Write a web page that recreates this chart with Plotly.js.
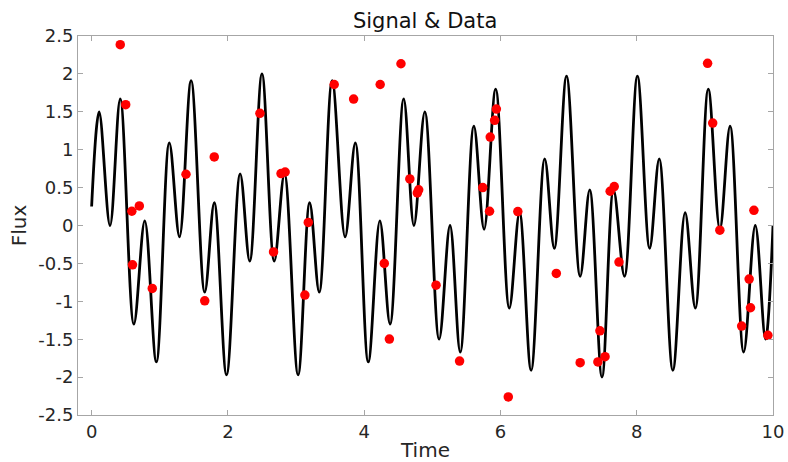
<!DOCTYPE html>
<html>
<head>
<meta charset="utf-8">
<script src="https://cdn.plot.ly/plotly-3.0.1.min.js"></script>
<style>html,body{margin:0;padding:0;background:#fff;}#chart{width:788px;height:462px;}</style>
</head>
<body>
<div id="chart"></div>
<script>
// Signal curve: extrema (time, flux)
const signalTime = [0, 0.11, 0.27, 0.42, 0.62, 0.78, 0.95, 1.14, 1.29, 1.46, 1.66, 1.80, 1.98, 2.18, 2.32,
  2.50, 2.68, 2.83, 3.03, 3.20, 3.34, 3.53, 3.72, 3.87, 4.06, 4.23, 4.38, 4.58, 4.73, 4.89,
  5.10, 5.26, 5.41, 5.61, 5.76, 5.93, 6.13, 6.28, 6.45, 6.65, 6.79, 6.97, 7.17, 7.31,
  7.49, 7.66, 7.82, 8.01, 8.19, 8.33, 8.53, 8.71, 8.86, 9.05, 9.22, 9.37, 9.57, 9.74, 9.89, 10];
const signalFlux = [0.25, 1.50, 0.0, 1.67, -1.30, 0.06, -1.80, 1.09, -0.15, 1.91, -0.88, 0.30, -1.97, 0.68, -0.47,
  2.00, -0.47, 0.68, -1.97, 0.30, -0.88, 1.91, -0.15, 1.09, -1.80, 0.06, -1.30, 1.67, 0.0, 1.50,
  -1.50, 0.0, -1.67, 1.31, -0.05, 1.80, -1.09, 0.17, -1.91, 0.88, -0.30, 1.97, -0.67, 0.47,
  -2.00, 0.47, -0.67, 1.97, -0.30, 0.88, -1.91, 0.17, -1.09, 1.80, -0.05, 1.31, -1.67, 0.0, -1.50, 0.0];

// Data points (time, flux)
const dataTime = [0.42, 0.50, 0.59, 0.70, 0.60, 0.89, 1.385, 1.80, 1.66, 2.47, 2.67, 2.78, 2.84, 3.13, 3.18,
  3.56, 3.845, 4.235, 4.54, 4.295, 4.37, 4.67, 4.78, 4.80, 5.055, 5.40, 5.74, 5.84, 5.85, 5.915, 5.94,
  6.115, 6.255, 6.82, 7.17, 7.43, 7.46, 7.535, 7.61, 7.67, 7.74, 9.04, 9.115, 9.22, 9.72, 9.65, 9.67, 9.54, 9.925];
const dataFlux = [2.385, 1.594, 0.188, 0.258, -0.519, -0.83, 0.676, 0.904, -0.993, 1.48, -0.348, 0.685, 0.706, -0.918, 0.04,
  1.86, 1.668, 1.86, 2.134, -0.50, -1.498, 0.614, 0.43, 0.47, -0.787, -1.788, 0.50, 0.188, 1.167, 1.387, 1.536,
  -2.262, 0.184, -0.633, -1.81, -1.80, -1.389, -1.73, 0.452, 0.514, -0.483, 2.14, 1.352, -0.062, 0.20, -0.707, -1.085, -1.327, -1.449];

// Tick labels
const xTickVals = [0, 2, 4, 6, 8, 10];
const xTickText = ["0", "2", "4", "6", "8", "10"];
const yTickVals = [-2.5, -2, -1.5, -1, -0.5, 0, 0.5, 1, 1.5, 2, 2.5];
const yTickText = ["-2.5", "-2", "-1.5", "-1", "-0.5", "0", "0.5", "1", "1.5", "2", "2.5"];

const FONT = "DejaVu Sans, sans-serif";
const axisCommon = {
  showgrid: false, zeroline: false,
  showline: true, linecolor: "#a6a6a6", linewidth: 1, mirror: "ticks",
  ticks: "inside", ticklen: 5, tickcolor: "#a6a6a6",
  tickfont: {family: FONT, size: 18, color: "#262626"}
};

const traces = [
  {x: signalTime, y: signalFlux, type: "scatter", mode: "lines",
   line: {color: "#000000", width: 2.8, shape: "spline", smoothing: 1}, hoverinfo: "skip"},
  {x: dataTime, y: dataFlux, type: "scatter", mode: "markers",
   marker: {color: "#ff0000", size: 9.5}}
];

const layout = {
  width: 788, height: 462,
  margin: {l: 78, r: 15, t: 36, b: 47},
  paper_bgcolor: "#ffffff", plot_bgcolor: "#ffffff",
  showlegend: false,
  title: {text: "Signal & Data", x: 0.5395, xanchor: "center", y: 0.955, yanchor: "middle",
          font: {family: FONT, size: 21, color: "#111111"}},
  xaxis: Object.assign({}, axisCommon, {
    range: [-0.2, 10], tickvals: xTickVals, ticktext: xTickText,
    title: {text: "Time", standoff: 2, font: {family: FONT, size: 20, color: "#262626"}}
  }),
  yaxis: Object.assign({}, axisCommon, {
    range: [-2.5, 2.5], tickvals: yTickVals, ticktext: yTickText,
    title: {text: "Flux", standoff: 6, font: {family: FONT, size: 20, color: "#262626"}}
  })
};

Plotly.newPlot("chart", traces, layout, {displayModeBar: false, staticPlot: true});
</script>
</body>
</html>
